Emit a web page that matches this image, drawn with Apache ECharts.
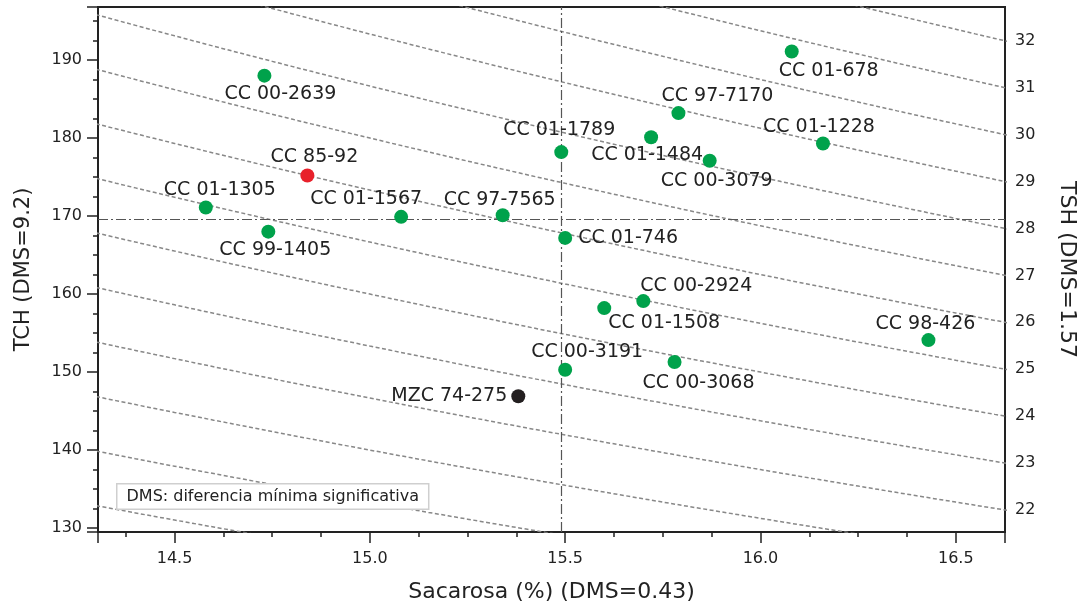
<!DOCTYPE html>
<html>
<head>
<meta charset="utf-8">
<script src="https://cdn.jsdelivr.net/npm/echarts@6/dist/echarts.min.js"></script>
<style>
  html, body { margin: 0; padding: 0; background: #fff; }
  #chart { width: 1080px; height: 610px; }
</style>
</head>
<body>
<div id="chart"></div>
<script>
// variedades: sacarosa (%) vs TCH
const names = ['CC 01-678', 'CC 00-2639', 'CC 97-7170', 'CC 01-1228', 'CC 01-1484', 'CC 01-1789',
  'CC 00-3079', 'CC 85-92', 'CC 01-1305', 'CC 01-1567', 'CC 97-7565', 'CC 99-1405', 'CC 01-746',
  'CC 00-2924', 'CC 01-1508', 'CC 98-426', 'CC 00-3068', 'CC 00-3191', 'MZC 74-275'];
const sacarosa = [16.08, 14.73, 15.79, 16.16, 15.72, 15.49, 15.87, 14.84, 14.58, 15.08, 15.34,
  14.74, 15.50, 15.70, 15.60, 16.43, 15.78, 15.50, 15.38];
const tch = [191.1, 188.0, 183.2, 179.3, 180.1, 178.2, 177.1, 175.2, 171.1, 169.9, 170.1,
  168.0, 167.2, 159.1, 158.2, 154.1, 151.3, 150.3, 146.9];

// medias (lineas punto-raya)
const mediaSacarosa = 15.49;
const mediaTch = 169.6;

// lineas de igual TSH (t/ha) = TCH * sacarosa / 100
const isoTsh = [19, 20, 21, 22, 23, 24, 25, 26, 27, 28, 29, 30, 31, 32];

const xMin = 14.304, xMax = 16.626;
const yMin = 129.5, yMax = 196.8;

const font = 'DejaVu Sans';
const ink = '#222';

// colores especiales
const colorEspecial = { 'CC 85-92': '#e8212b', 'MZC 74-275': '#231f20' };
const verde = '#00a24b';

// posicion de etiquetas: [posicion, dx, dy]
const etiquetas = {
  'CC 01-678': ['bottom', 37, 1], 'CC 00-2639': ['bottom', 16, 0], 'CC 97-7170': ['top', 39, 1],
  'CC 01-1228': ['top', -4, 2], 'CC 01-1484': ['bottom', -4, -1], 'CC 01-1789': ['top', -2, -4],
  'CC 00-3079': ['bottom', 7, 2], 'CC 85-92': ['top', 7, 0], 'CC 01-1305': ['top', 14, 1],
  'CC 01-1567': ['top', -35, 1], 'CC 97-7565': ['top', -3, 3], 'CC 99-1405': ['bottom', 7, 0],
  'CC 01-746': ['right', 0, 0], 'CC 00-2924': ['top', 53, 3], 'CC 01-1508': ['bottom', 60, -4],
  'CC 98-426': ['top', -3, 2], 'CC 00-3068': ['bottom', 24, 3], 'CC 00-3191': ['top', 22, 1],
  'MZC 74-275': ['left', 0, 0]
};

var chartDom = document.getElementById('chart');
var myChart = echarts.init(chartDom);

// curvas iso-TSH muestreadas a lo largo del eje x
let pasos = [];
for (let s = 14.25; s <= 16.7; s += 0.05) pasos.push(+s.toFixed(2));

const isoSeries = isoTsh.map(t => ({
  type: 'line',
  silent: true,
  symbol: 'none',
  clip: true,
  z: 1,
  lineStyle: { color: '#888', width: 1.5, type: [4, 2.5] },
  data: pasos.map(s => [s, 100 * t / s])
}));

const puntos = names.map((n, i) => {
  const p = etiquetas[n];
  return {
    name: n,
    value: [sacarosa[i], tch[i]],
    itemStyle: { color: colorEspecial[n] || verde, opacity: 1 },
    label: { position: p[0], offset: [p[1], p[2]], distance: p[0] === 'left' ? 4 : (p[0] === 'right' ? 6 : 2) }
  };
});

var option = {
  animation: false,
  textStyle: { fontFamily: font },
  grid: {
    left: 98, right: 75, top: 7, bottom: 78,
    outerBoundsMode: 'none',
    show: true, borderColor: ink, borderWidth: 2, backgroundColor: 'transparent'
  },
  xAxis: {
    type: 'value',
    min: xMin, max: xMax,
    name: 'Sacarosa (%) (DMS=0.43)',
    nameLocation: 'middle',
    nameGap: 49,
    nameTextStyle: { fontSize: 22, color: ink, fontFamily: font },
    axisLine: { lineStyle: { color: ink, width: 2 } },
    axisTick: { length: 11, lineStyle: { color: ink, width: 1.5 } },
    minorTick: { show: true, splitNumber: 4, length: 5, lineStyle: { color: ink, width: 1.5 } },
    axisLabel: {
      margin: 19, fontSize: 16, color: ink, fontFamily: font,
      showMinLabel: false, showMaxLabel: false,
      formatter: v => v.toFixed(1)
    },
    splitLine: { show: false }
  },
  yAxis: [{
    type: 'value',
    min: yMin, max: yMax,
    name: 'TCH (DMS=9.2)',
    nameLocation: 'middle',
    nameGap: 64,
    nameTextStyle: { fontSize: 21, color: ink, fontFamily: font },
    axisLine: { show: true, lineStyle: { color: ink, width: 2 } },
    axisTick: { show: true, length: 11, lineStyle: { color: ink, width: 1.5 } },
    minorTick: { show: true, splitNumber: 4, length: 5, lineStyle: { color: ink, width: 1.5 } },
    axisLabel: { margin: 16, fontSize: 16, color: ink, fontFamily: font, showMinLabel: false, showMaxLabel: false },
    splitLine: { show: false }
  }, {
    type: 'value',
    position: 'right',
    min: yMin * xMax / 100, max: yMax * xMax / 100,
    splitNumber: 11,
    name: 'TSH (DMS=1.57',
    nameLocation: 'middle',
    nameRotate: -90,
    nameGap: 51,
    nameTextStyle: { fontSize: 22, color: ink, fontFamily: font },
    axisLine: { show: true, lineStyle: { color: ink, width: 2 } },
    axisTick: { show: false },
    axisLabel: { margin: 10, fontSize: 16, color: ink, fontFamily: font, showMinLabel: false, showMaxLabel: false },
    splitLine: { show: false }
  }],
  graphic: [{
    type: 'text',
    left: 116, top: 483,
    z: 100,
    style: {
      text: 'DMS: diferencia mínima significativa',
      fontFamily: font, fontSize: 16, fill: ink,
      backgroundColor: '#fff', borderColor: '#cfcfcf', borderWidth: 1.5,
      padding: [4, 9, 4, 9]
    }
  }],
  series: isoSeries.concat([{
    type: 'line',
    silent: true,
    data: [],
    markLine: {
      silent: true,
      symbol: 'none',
      label: { show: false },
      lineStyle: { color: '#555', width: 1.2, type: [10, 3, 2, 3] },
      data: [{ xAxis: mediaSacarosa }, { yAxis: mediaTch }]
    }
  }, {
    type: 'scatter',
    symbolSize: 14,
    z: 5,
    itemStyle: { opacity: 1 },
    label: {
      show: true,
      formatter: '{b}',
      fontSize: 19,
      color: ink,
      fontFamily: font
    },
    data: puntos
  }])
};

option && myChart.setOption(option);
window.addEventListener('resize', myChart.resize);
</script>
</body>
</html>
